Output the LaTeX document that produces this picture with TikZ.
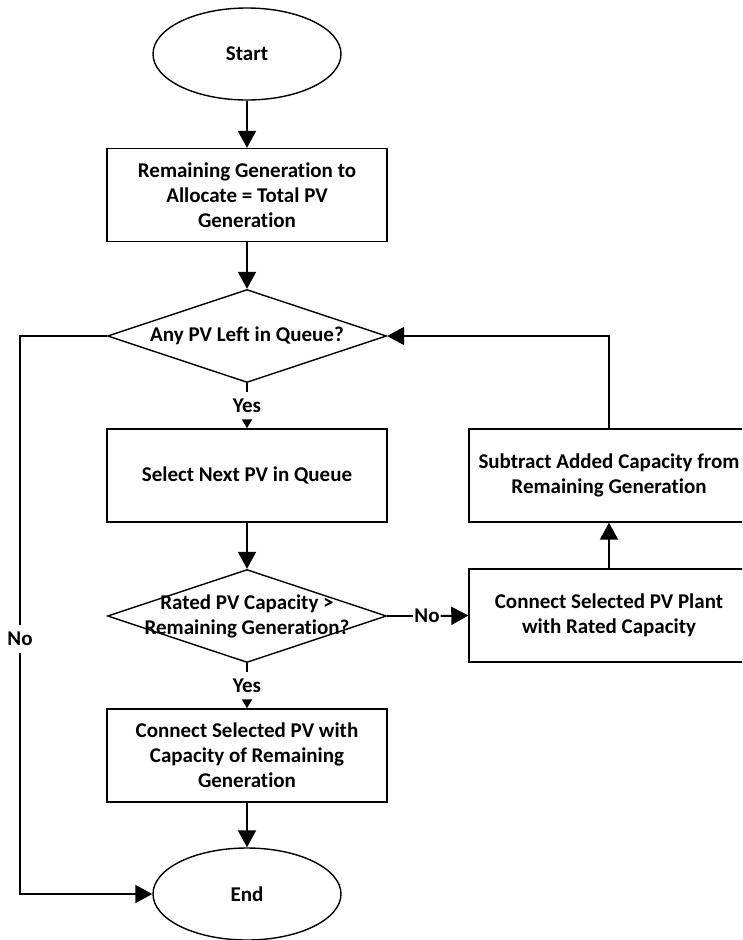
\documentclass[tikz,border=0pt]{standalone}
\usepackage{fontspec}
\setmainfont{Carlito}[Ligatures={NoCommon},BoldFeatures={Ligatures={NoCommon}}]
\usetikzlibrary{shapes.geometric,arrows.meta}
\tikzset{
  x=1pt,y=-1pt,
  every node/.style={font=\bfseries\fontsize{21}{25}\selectfont},
  boxnode/.style={draw,line width=1.4pt,rectangle,minimum width=280pt,minimum height=93pt,inner sep=0pt,align=center},
  ovalnode/.style={draw,line width=1.4pt,ellipse,minimum width=188pt,minimum height=92pt,inner sep=0pt},
  dianode/.style={draw,line width=1.4pt,diamond,minimum width=279pt,minimum height=93pt,inner sep=0pt},
  txtnode/.style={align=center,inner sep=0pt},
  lblnode/.style={inner sep=0pt,minimum width=27pt,minimum height=27pt},
  flow/.style={line width=2pt},
  bigarrow/.style={flow,-{Triangle[length=17pt,width=18pt]}},
  smallarrow/.style={flow,-{Triangle[length=9pt,width=10pt]}}
}
\begin{document}
\begin{tikzpicture}
\useasboundingbox (0,0) rectangle (742,940);
\fill[white] (0,0) rectangle (742,940);
\clip (0,0) rectangle (742,940);

\node[ovalnode] (start) at (247,54) {Start};
\node[boxnode] (b1) at (247,195) {Remaining Generation to\\Allocate = Total PV\\Generation};
\node[dianode] (d1) at (247,336) {};
\node[txtnode] (d1t) at (d1.center) {Any PV Left in Queue?};
\node[lblnode] (yes1) at (247,406) {Yes};
\node[boxnode] (b2) at (247,475.5) {Select Next PV in Queue};
\node[dianode] (d2) at (247,616) {};
\node[txtnode] (d2t) at (d2.center) {Rated PV Capacity >\\Remaining Generation?};
\node[lblnode] (yes2) at (247,686) {Yes};
\node[boxnode] (b3) at (247,755.5) {Connect Selected PV with\\Capacity of Remaining\\Generation};
\node[ovalnode] (end) at (247,894) {End};

\node[lblnode] (no2) at (427,616) {No};
\node[boxnode] (b4) at (609,615.5) {Connect Selected PV Plant\\with Rated Capacity};
\node[boxnode] (b5) at (609,475.5) {Subtract Added Capacity from\\Remaining Generation};

\node[lblnode] (no1) at (20,639) {No};

\draw[bigarrow] (start) -- (b1);
\draw[bigarrow] (b1) -- (d1.north);
\draw[flow] (d1.south) -- (yes1.north);
\draw[smallarrow] (yes1.south) -- (b2.north);
\draw[bigarrow] (b2) -- (d2.north);
\draw[flow] (d2.south) -- (yes2.north);
\draw[smallarrow] (yes2.south) -- (b3.north);
\draw[bigarrow] (b3) -- (end);

\draw[flow] (d2.east) -- (no2.west);
\draw[bigarrow] (no2.east) -- (b4.west);
\draw[bigarrow] (b4.north) -- (b5.south);
\draw[bigarrow] (b5.north) |- (d1.east);

\draw[flow] (d1.west) -| (no1.north);
\draw[bigarrow] (no1.south) |- (end.west);
\end{tikzpicture}
\end{document}
